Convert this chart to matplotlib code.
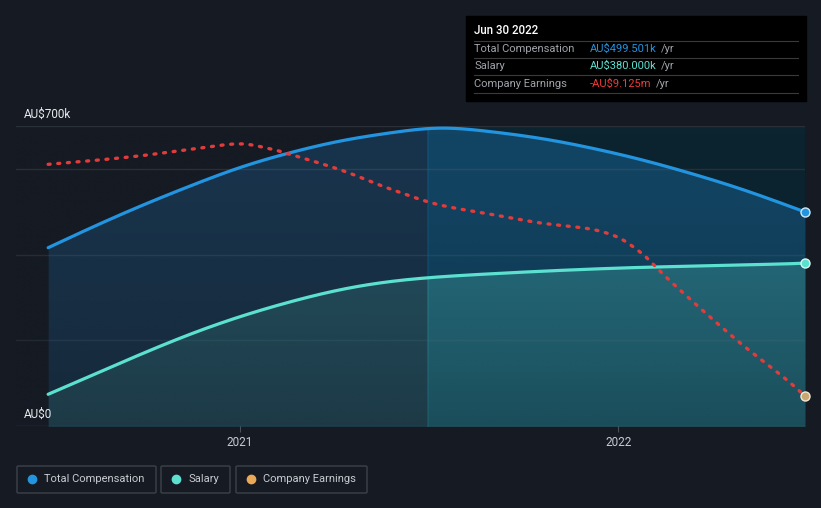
import matplotlib
matplotlib.use("Agg")
import matplotlib.pyplot as plt
import matplotlib.dates as mdates
import numpy as np
import pandas as pd
from matplotlib.patches import Rectangle, FancyBboxPatch

plt.rcParams['font.family'] = ['Roboto', 'DejaVu Sans']

# ---- data ----
dates = ["2020-06-30", "2020-08-10", "2020-09-28", "2020-11-15", "2021-01-01",
         "2021-02-19", "2021-04-08", "2021-05-26", "2021-07-13", "2021-08-30",
         "2021-10-18", "2021-12-05", "2022-01-22", "2022-03-11", "2022-04-28",
         "2022-06-16", "2022-06-30"]
total_comp = [416, 462, 514, 561, 603, 638, 665, 684, 695, 687,
              671, 649, 622, 590, 554, 512, 499.501]          # AU$ k
salary = [74, 117, 168, 215, 255, 290, 318, 337, 348, 355,
          361, 366, 370, 373, 376, 378.7, 380.0]              # AU$ k

earn_dates = ["2020-06-30", "2020-08-10", "2020-09-28", "2020-11-15", "2021-01-01",
              "2021-01-31", "2021-02-19", "2021-04-08", "2021-05-26", "2021-07-13",
              "2021-08-30", "2021-10-18", "2021-12-05", "2021-12-29", "2022-01-22",
              "2022-02-15", "2022-03-11", "2022-04-28", "2022-06-16", "2022-06-30"]
earnings = [1.30, 1.46, 1.69, 1.98, 2.22, 1.99, 1.74, 1.05, 0.19, -0.53,
            -0.94, -1.34, -1.61, -1.93, -2.65, -3.73, -4.76, -6.72, -8.54, -9.125]  # AU$ m

y_ticks = [0, 200, 400, 600, 700]
x_tick_labels = ["2021", "2022"]
highlight_start = "2021-06-30"

# ---- colours ----
BG = "#151a23"
BG_HL = "#0b2430"
BLUE = "#2394df"
TEAL = "#5ce0d0"
RED = "#e03c3c"
ORANGE = "#e8a95a"
GRID = "#2a3038"
TXT = "#c8cbd0"


def pchip(x, y, xn):
    """Monotone cubic (PCHIP) curve through the given points, for smooth drawing."""
    x = np.asarray(x, float); y = np.asarray(y, float)
    h = np.diff(x); delta = np.diff(y) / h
    n = len(x); m = np.zeros(n)
    for k in range(1, n - 1):
        if delta[k - 1] * delta[k] > 0:
            w1 = 2 * h[k] + h[k - 1]; w2 = h[k] + 2 * h[k - 1]
            m[k] = (w1 + w2) / (w1 / delta[k - 1] + w2 / delta[k])
    m[0] = delta[0]; m[-1] = delta[-1]
    idx = np.clip(np.searchsorted(x, xn) - 1, 0, n - 2)
    t = (xn - x[idx]) / h[idx]
    h00 = 2 * t**3 - 3 * t**2 + 1; h10 = t**3 - 2 * t**2 + t
    h01 = -2 * t**3 + 3 * t**2; h11 = t**3 - t**2
    return h00 * y[idx] + h10 * h[idx] * m[idx] + h01 * y[idx + 1] + h11 * h[idx] * m[idx + 1]


def spline(x, y, xn):
    """Natural cubic spline through the given points, for smooth drawing."""
    x = np.asarray(x, float); y = np.asarray(y, float)
    n = len(x); h = np.diff(x)
    A = np.zeros((n, n)); r = np.zeros(n)
    A[0, 0] = A[-1, -1] = 1
    for i in range(1, n - 1):
        A[i, i - 1] = h[i - 1]; A[i, i] = 2 * (h[i - 1] + h[i]); A[i, i + 1] = h[i]
        r[i] = 6 * ((y[i + 1] - y[i]) / h[i] - (y[i] - y[i - 1]) / h[i - 1])
    M = np.linalg.solve(A, r)
    idx = np.clip(np.searchsorted(x, xn) - 1, 0, n - 2)
    xi, xi1, hi = x[idx], x[idx + 1], h[idx]
    return (M[idx] * (xi1 - xn) ** 3 / (6 * hi) + M[idx + 1] * (xn - xi) ** 3 / (6 * hi)
            + (y[idx] / hi - M[idx] * hi / 6) * (xi1 - xn)
            + (y[idx + 1] / hi - M[idx + 1] * hi / 6) * (xn - xi))


d = pd.to_datetime(dates)
de = pd.to_datetime(earn_dates)
dn = mdates.date2num(d)
den = mdates.date2num(de)
xs = np.linspace(dn[0], dn[-1], 800)
tc_s = spline(dn, total_comp, xs)
sal_s = spline(dn, salary, xs)
xse = np.linspace(den[0], den[-1], 800)
earn_s = pchip(den, earnings, xse)

fig = plt.figure(figsize=(8.21, 5.08), dpi=100, facecolor=BG)
W, H = 821, 508
ax = fig.add_axes([16 / W, (H - 426) / H, (805 - 16) / W, 300 / H])
ax.set_facecolor(BG)
x0 = dn[0] - 31
x1 = dn[-1]
hl = mdates.date2num(pd.Timestamp(highlight_start))

ax.axvspan(hl, x1, color=BG_HL, zorder=0, lw=0)

for v in y_ticks:
    ax.axhline(v, color=GRID if v > 0 else "#4a5058", lw=1, zorder=1)

left = xs <= hl + 1.5
right = xs >= hl
ax.fill_between(xs, 0, tc_s, where=left, color=BLUE, alpha=0.22, lw=0, zorder=2)
ax.fill_between(xs, 0, tc_s, where=right, color=BLUE, alpha=0.30, lw=0, zorder=2.1)
ax.fill_between(xs, 0, sal_s, where=left, color=TEAL, alpha=0.18, lw=0, zorder=3)
ax.fill_between(xs, 0, sal_s, where=right, color=TEAL, alpha=0.30, lw=0, zorder=3.1)

# darkening gradient toward bottom
grad = np.linspace(0, 1, 256).reshape(-1, 1)
for (a, b, col) in [(x0, hl, BG), (hl, x1, "#0a1f28")]:
    rgba = np.zeros((256, 1, 4))
    rgba[..., :3] = matplotlib.colors.to_rgb(col)
    rgba[..., 3] = (1 - grad) ** 1.3 * 0.45
    ax.imshow(rgba, extent=[a, b, 0, 700], aspect='auto', origin='lower', zorder=3.5,
              interpolation='bilinear')
ax.set_xlim(x0, x1)
ax.set_ylim(0, 700)

ax.plot(xs, tc_s, color=BLUE, lw=2.3, zorder=5, solid_capstyle='round')
ax.plot(xs, sal_s, color=TEAL, lw=2.3, zorder=5, solid_capstyle='round')
ax.plot([dn[-1]], [total_comp[-1]], 'o', ms=6.5, mfc=BLUE, mec="#cfe8f8", mew=1, zorder=7, clip_on=False)
ax.plot([dn[-1]], [salary[-1]], 'o', ms=6.5, mfc=TEAL, mec="#d8f8f4", mew=1, zorder=7, clip_on=False)

ax2 = ax.twinx()
ax2.set_ylim(-10.475, 3.025)
ax2.plot(xse, earn_s, color=RED, lw=2.4, ls=(0, (0.6, 2.3)), dash_capstyle='round', zorder=6)
ax2.plot([den[-1]], [earnings[-1]], 'o', ms=6.5, mfc="#c8a870", mec="#f0e8d8", mew=1, zorder=7, clip_on=False)
ax2.axis('off')
ax2.set_xlim(x0, x1)

for s in ax.spines.values():
    s.set_visible(False)
ax.set_yticks([])
ax.set_xticks(mdates.date2num(pd.to_datetime([t + "-01-01" for t in x_tick_labels])))
ax.set_xticklabels(x_tick_labels, color=TXT, fontsize=8.5)
ax.tick_params(axis='x', length=4, color="#4a5058", pad=3)

fig.text(24 / W, (H - 114) / H, "AU$700k", color="#e8eaed", fontsize=8.5, va='center', ha='left')
fig.text(24 / W, (H - 414) / H, "AU$0", color="#e8eaed", fontsize=8.5, va='center', ha='left')

# tooltip
fig.patches.append(Rectangle((466 / W, (H - 101) / H), 340 / W, 85 / H,
                             transform=fig.transFigure, color="#000000", zorder=10))


def ft(x, y, s, **kw):
    return fig.text(x / W, (H - y) / H, s, va='center', zorder=11, **kw)


ft(474, 31, "Jun 30 2022", color="white", fontsize=8.3, fontweight='medium')
for yy in (41, 58, 75, 93):
    fig.add_artist(plt.Line2D([474 / W, 798 / W], [(H - yy) / H] * 2, color="#3a3a3a", lw=0.8,
                              transform=fig.transFigure, zorder=11))
rows = [("Total Compensation", "AU$499.501k", BLUE, 49),
        ("Salary", "AU$380.000k", TEAL, 66),
        ("Company Earnings", "-AU$9.125m", "#ef3b3b", 84)]
fig.canvas.draw()
for lab, val, col, yy in rows:
    ft(474, yy, lab, color="#a0a4aa", fontsize=8)
    t = ft(590, yy, val, color=col, fontsize=8)
    fig.canvas.draw()
    bb = t.get_window_extent()
    ft(bb.x1 + 4, yy, "/yr", color="#a0a4aa", fontsize=8)

# legend
legend = [("Total Compensation", BLUE, 17, 156), ("Salary", TEAL, 161, 230),
          ("Company Earnings", ORANGE, 236, 367)]
for lab, col, xa, xb in legend:
    fig.patches.append(FancyBboxPatch((xa / W, (H - 493) / H), (xb - xa) / W, 27 / H,
                                      boxstyle="round,pad=0,rounding_size=0.002",
                                      transform=fig.transFigure, fc="none", ec="#3c424b", lw=1))
    fig.add_artist(plt.Line2D([(xa + 15) / W], [(H - 479) / H], marker='o', ms=6, color=col,
                              transform=fig.transFigure, lw=0))
    fig.text((xa + 27) / W, (H - 479) / H, lab, color=TXT, fontsize=8, va='center')

fig.savefig("out.png", dpi=100, facecolor=BG)
